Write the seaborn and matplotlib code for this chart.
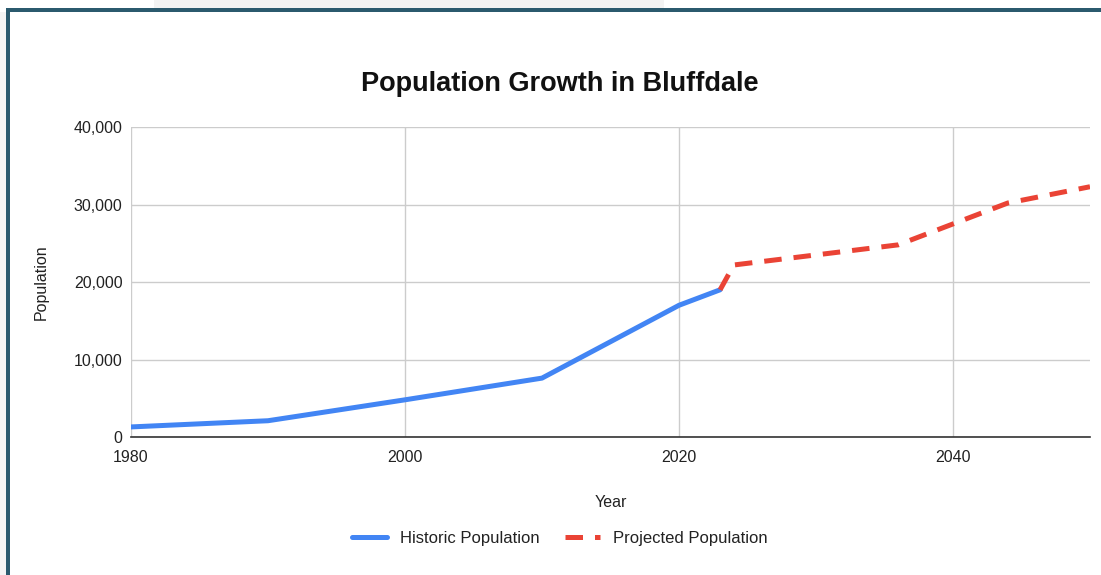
import pandas as pd
import seaborn as sns
import matplotlib.pyplot as plt
from matplotlib.patches import Rectangle
from matplotlib.ticker import FuncFormatter

# Data
hist_years = [1980, 1990, 2000, 2010, 2020, 2023]
hist_pop = [1300, 2100, 4800, 7600, 17000, 19000]
proj_years = [2023, 2024, 2030, 2036, 2040, 2044, 2050]
proj_pop = [19000, 22200, 23500, 24800, 27500, 30200, 32300]
x_ticks = [1980, 2000, 2020, 2040]
y_ticks = [0, 10000, 20000, 30000, 40000]

hist = pd.DataFrame({"Year": hist_years, "Population": hist_pop})
proj = pd.DataFrame({"Year": proj_years, "Population": proj_pop})

sns.set_theme(style="white")
plt.rcParams["font.family"] = ["Liberation Sans", "DejaVu Sans"]

fig = plt.figure(figsize=(11.01, 5.75), dpi=100)
ax = fig.add_axes([0.119, 0.240, 0.871, 0.539])

sns.lineplot(data=hist, x="Year", y="Population", ax=ax, color="#4285F4",
             linewidth=3.6, label="Historic Population")
sns.lineplot(data=proj, x="Year", y="Population", ax=ax, color="#EA4335",
             linewidth=3.6, linestyle=(0, (3.5, 2.4)), label="Projected Population")

ax.set_xlim(1980, 2050)
ax.set_ylim(0, 40000)
ax.set_xticks(x_ticks)
ax.set_yticks(y_ticks)
ax.yaxis.set_major_formatter(FuncFormatter(lambda v, p: f"{int(v):,}"))
ax.grid(True, color="#cccccc", linewidth=1)
ax.set_axisbelow(True)
for s in ["top", "right", "left"]:
    ax.spines[s].set_visible(False)
ax.spines["bottom"].set_color("#333333")
ax.spines["bottom"].set_linewidth(1.2)
ax.tick_params(axis="both", length=0, labelsize=11.5, colors="#222222")
ax.tick_params(axis="x", pad=9)
ax.tick_params(axis="y", pad=6)

ax.set_xlabel("Year", fontsize=11.5, color="#222222", labelpad=22)
ax.set_ylabel("Population", fontsize=11.5, color="#222222", labelpad=18)
fig.text(560 / 1101, 1 - 84 / 575, "Population Growth in Bluffdale", fontsize=19.5,
         fontweight="bold", color="#111111", ha="center", va="center")

leg = ax.legend(loc="center", bbox_to_anchor=(560 / 1101, 1 - 538 / 575), ncol=2,
                frameon=False, fontsize=12, handlelength=2.1, columnspacing=1.5,
                handletextpad=0.8, bbox_transform=fig.transFigure)
for t in leg.get_texts():
    t.set_color("#222222")

# screenshot frame
fig.patches.append(Rectangle((0, 0), 6 / 1101, 1 - 12 / 575, transform=fig.transFigure,
                             facecolor="#f4f4f4", edgecolor="none", zorder=0))
fig.patches.append(Rectangle((154 / 1101, 1 - 9 / 575), 510 / 1101, 9 / 575,
                             transform=fig.transFigure, facecolor="#f3f3f3",
                             edgecolor="none", zorder=0))
fig.patches.append(Rectangle((6 / 1101, 1 - 12 / 575), 1 - 6 / 1101, 4 / 575,
                             transform=fig.transFigure, facecolor="#2b5a6e",
                             edgecolor="none", zorder=1))
fig.patches.append(Rectangle((6 / 1101, 0), 4 / 1101, 1 - 8 / 575,
                             transform=fig.transFigure, facecolor="#2b5a6e",
                             edgecolor="none", zorder=1))

fig.savefig("out.png", dpi=100)
